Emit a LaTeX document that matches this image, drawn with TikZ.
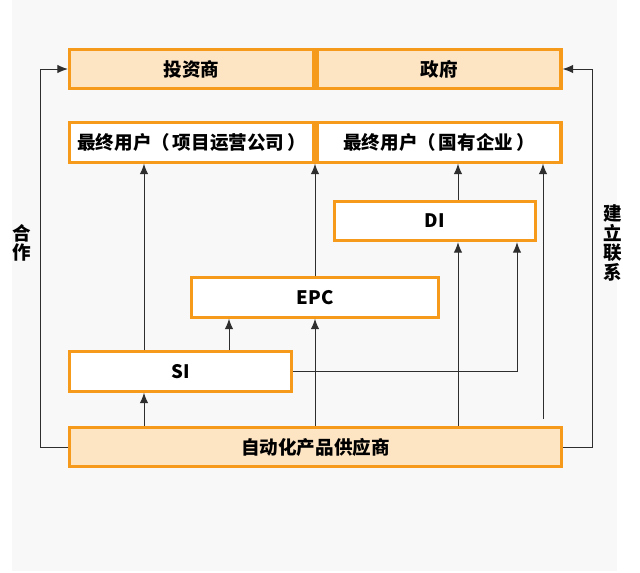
\documentclass[tikz,border=0pt]{standalone}
\usepackage{fontspec}
\usepackage{tikz}
\usepackage{xcolor}
\usetikzlibrary{arrows.meta}
\newfontfamily\cjk{Noto Sans CJK SC}
\definecolor{boxorange}{HTML}{F59A1B}
\definecolor{boxfill}{HTML}{FDE4C3}
\definecolor{bggrey}{HTML}{F8F8F8}
\definecolor{linegrey}{HTML}{2E2E2E}

\begin{document}
\begin{tikzpicture}[x=0.025cm, y=-0.025cm,
    every node/.style={font=\cjk\bfseries\fontsize{13.2}{13.8}\selectfont},
    whitebox/.style={draw=boxorange, line width=2.2pt, fill=white, minimum height=0.98cm, inner sep=0pt},
    fillbox/.style={whitebox, fill=boxfill},
    arr/.style={-{Latex[length=7.5pt, width=6pt]}, draw=linegrey, line width=0.7pt}]
    % Background
    \useasboundingbox (0,0) rectangle (640,573);
    \fill[bggrey] (12,0) rectangle (617,571);
    % Columns of the connectors
    \coordinate (lft) at (40,0);
    \coordinate (c1) at (144,0);
    \coordinate (c2) at (229,0);
    \coordinate (c3) at (315,0);
    \coordinate (c4) at (458,0);
    \coordinate (c5) at (517,0);
    \coordinate (c6) at (543,0);
    \coordinate (rgt) at (592,0);
    % Boxes
    \node[fillbox, minimum width=6.1cm] (inv) at (191.5,69) {投资商};
    \node[fillbox, minimum width=6.1cm] (gov) at (439,69) {政府};
    \node[whitebox, minimum width=6.1cm] (userA) at (191.5,142.5) {最终用户（\hspace{0.15em}项目运营公司\hspace{0.15em}）};
    \node[whitebox, minimum width=6.1cm] (userB) at (439,142.5) {最终用户（\hspace{0.15em}国有企业\hspace{0.15em}）};
    \node[whitebox, minimum width=5.03cm] (di) at (435,221) {DI};
    \node[whitebox, minimum width=6.18cm] (epc) at (315,297.5) {EPC};
    \node[whitebox, minimum width=5.55cm] (si) at (180.5,371.5) {SI};
    \node[fillbox, minimum width=12.3cm] (sup) at (315.5,447) {自动化产品供应商};
    \coordinate (free) at (543,419);
    % Side labels
    \node[align=center, inner sep=0pt] (coop) at (22,243) {合\\作};
    \node[align=center, inner sep=0pt] (contact) at (613,243) {建\\立\\联\\系};
    % Connectors
    \draw[arr] (sup.north -| c1) -- (si.south -| c1);
    \draw[arr] (si.north -| c1) -- (userA.south -| c1);
    \draw[arr] (si.north -| c2) -- (epc.south -| c2);
    \draw[arr] (sup.north -| c3) -- (epc.south -| c3);
    \draw[arr] (epc.north -| c3) -- (userA.south -| c3);
    \draw[arr] (si.east) -| (di.south -| c5);
    \draw[arr] (sup.north -| c4) -- (di.south -| c4);
    \draw[arr] (di.north -| c4) -- (userB.south -| c4);
    \draw[arr] (free) -- (userB.south -| c6);
    \draw[arr] (sup.west) -| (inv.west -| lft) -- (inv.west);
    \draw[arr] (sup.east) -| (gov.east -| rgt) -- (gov.east);
\end{tikzpicture}
\end{document}
